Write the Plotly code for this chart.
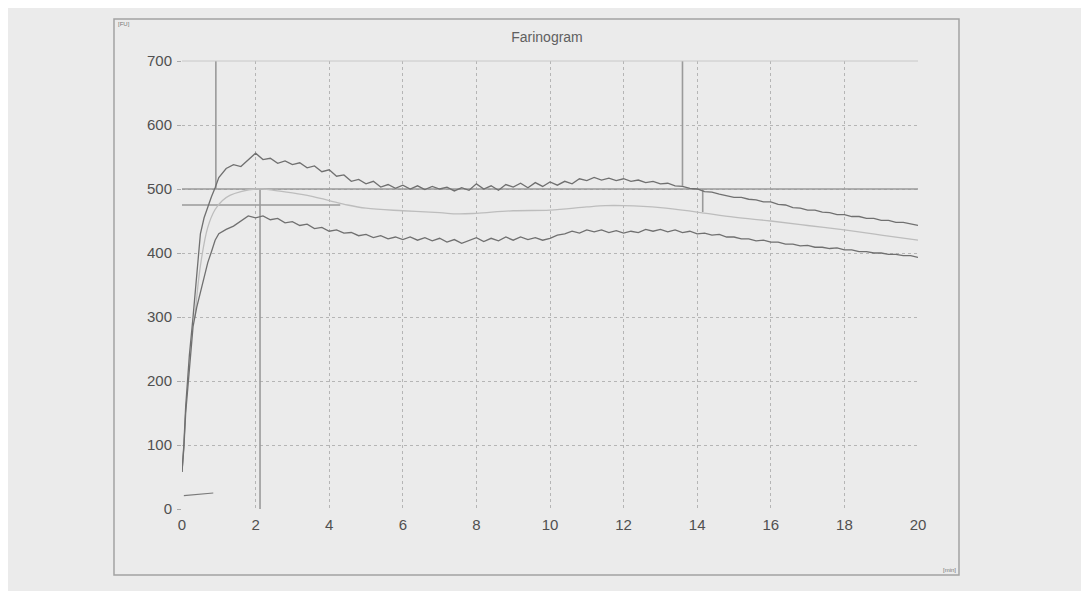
import plotly.graph_objects as go

# ---- data ----
upper_t = [0, 0.05, 0.1, 0.2, 0.3, 0.4, 0.5, 0.6, 0.7, 0.8, 0.9, 1.0,
           1.2, 1.4, 1.6, 1.8, 2.0, 2.2, 2.4, 2.6, 2.8, 3.0, 3.2, 3.4, 3.6, 3.8,
           4.0, 4.2, 4.4, 4.6, 4.8, 5.0, 5.2, 5.4, 5.6, 5.8, 6.0, 6.2, 6.4, 6.6,
           6.8, 7.0, 7.2, 7.4, 7.6, 7.8, 8.0, 8.2, 8.4, 8.6, 8.8, 9.0, 9.2, 9.4,
           9.6, 9.8, 10.0, 10.2, 10.4, 10.6, 10.8, 11.0, 11.2, 11.4, 11.6, 11.8,
           12.0, 12.2, 12.4, 12.6, 12.8, 13.0, 13.2, 13.4, 13.6, 13.8, 14.0,
           14.2, 14.4, 14.6, 14.8, 15.0, 15.2, 15.4, 15.6, 15.8, 16.0, 16.2,
           16.4, 16.6, 16.8, 17.0, 17.2, 17.4, 17.6, 17.8, 18.0, 18.2, 18.4,
           18.6, 18.8, 19.0, 19.2, 19.4, 19.6, 19.8, 20.0]
upper_fu = [58, 100, 160, 240, 300, 370, 430, 455, 472, 488, 502, 518,
            532, 538, 535, 545, 556, 546, 548, 540, 544, 538, 541, 533, 536, 527,
            530, 520, 522, 512, 515, 508, 512, 503, 507, 501, 506, 500, 505, 499,
            504, 500, 503, 497, 502, 498, 508, 500, 505, 498, 507, 503, 509, 502,
            510, 504, 511, 506, 512, 508, 516, 513, 518, 514, 517, 513,
            516, 512, 514, 510, 512, 508, 509, 505, 504, 501, 500,
            496, 495, 492, 490, 487, 487, 484, 483, 480, 480, 476,
            475, 471, 470, 467, 467, 464, 463, 460, 460, 457, 457,
            454, 454, 451, 451, 448, 448, 445, 443]

lower_t = upper_t
lower_fu = [58, 95, 150, 225, 285, 315, 340, 360, 385, 402, 420, 430,
            437, 442, 450, 458, 455, 458, 452, 454, 447, 449, 443, 445, 438, 440,
            434, 436, 431, 432, 427, 429, 424, 427, 422, 425, 421, 425, 420, 424,
            419, 423, 417, 421, 415, 420, 424, 418, 423, 419, 425, 420, 425, 421,
            424, 420, 423, 428, 430, 434, 431, 436, 433, 436, 432, 435,
            431, 434, 432, 437, 434, 437, 433, 436, 432, 434, 430,
            431, 428, 429, 425, 425, 422, 422, 419, 420, 417, 417,
            414, 414, 411, 412, 409, 409, 407, 408, 405, 405, 402,
            402, 400, 400, 398, 398, 396, 396, 393]

mid_t = [0.35, 0.5, 0.7, 0.9, 1.1, 1.3, 1.6, 2.0, 2.5, 3.0, 3.5, 4.0, 4.5, 5.0,
         6.0, 7.0, 7.5, 8.0, 9.0, 10.0, 11.0, 11.5, 12.0, 13.0, 14.0, 15.0,
         16.0, 17.0, 18.0, 19.0, 20.0]
mid_fu = [300, 380, 440, 468, 482, 490, 496, 500, 498, 494, 489, 482, 475, 470,
          466, 463, 461, 462, 466, 467, 472, 474, 474, 471, 464, 456,
          450, 443, 436, 428, 420]

temp_t = [0.05, 0.4, 0.85]
temp_fu = [21, 23, 25]

# evaluation marker lines: (x0, y0, x1, y1)
marker_lines = [
    (0.92, 500, 0.92, 700),
    (2.12, 0, 2.12, 500),
    (0, 500, 20, 500),
    (0, 475, 4.3, 475),
    (13.6, 505, 13.6, 700),
    (14.15, 464, 14.15, 500),
]

x_ticks = [0, 2, 4, 6, 8, 10, 12, 14, 16, 18, 20]
y_ticks = [0, 100, 200, 300, 400, 500, 600, 700]

# ---- figure ----
W, H = 1073, 583
fig = go.Figure()
for x0, y0, x1, y1 in marker_lines:
    fig.add_trace(go.Scatter(x=[x0, x1], y=[y0, y1], mode="lines",
                             line=dict(color="#9a9a9a", width=1.6),
                             hoverinfo="skip", showlegend=False))

fig.add_trace(go.Scatter(x=mid_t, y=mid_fu, mode="lines",
                         line=dict(color="#bdbdbd", width=1.3, shape="spline"),
                         showlegend=False))
fig.add_trace(go.Scatter(x=upper_t, y=upper_fu, mode="lines",
                         line=dict(color="#707070", width=1.3), showlegend=False))
fig.add_trace(go.Scatter(x=lower_t, y=lower_fu, mode="lines",
                         line=dict(color="#707070", width=1.3), showlegend=False))
fig.add_trace(go.Scatter(x=temp_t, y=temp_fu, mode="lines",
                         line=dict(color="#7a7a7a", width=1.2), showlegend=False))

fig.update_layout(
    width=W, height=H,
    margin=dict(l=174, r=W - 174 - 736, t=53, b=H - 53 - 448),
    paper_bgcolor="#ebebeb", plot_bgcolor="#ebebeb",
    font=dict(family="Liberation Sans, Arial, sans-serif", color="#505050", size=15),
    title=dict(text="Farinogram", x=539 / W, xanchor="center",
               y=1 - 29 / H, yanchor="middle",
               font=dict(size=14, color="#606060")),
    xaxis=dict(range=[0, 20], tickvals=x_ticks, showgrid=True,
               gridcolor="#b5b5b5", griddash="dot", gridwidth=1,
               zeroline=False, showline=False, ticks="", ticklen=4,
               ticklabelstandoff=5),
    yaxis=dict(range=[0, 700], tickvals=y_ticks, showgrid=True,
               gridcolor="#b5b5b5", griddash="dot", gridwidth=1,
               zeroline=False, showline=False, ticks="outside", ticklen=4,
               tickcolor="#aaaaaa", ticklabelstandoff=2),
    shapes=[
        dict(type="rect", xref="paper", yref="paper",
             x0=-0.0924, x1=1.0557, y0=-0.1473, y1=1.0938,
             line=dict(color="#a3a3a3", width=1.5), fillcolor="rgba(0,0,0,0)",
             layer="below"),
        dict(type="line", xref="paper", yref="paper", x0=0, x1=1, y0=1, y1=1,
             line=dict(color="#c8c8c8", width=1)),
    ],
    annotations=[
        dict(text="[FU]", xref="paper", yref="paper", x=-0.089, y=1.083,
             xanchor="left", yanchor="middle", showarrow=False,
             font=dict(size=6, color="#777777")),
        dict(text="[min]", xref="paper", yref="paper", x=1.054, y=-0.137,
             xanchor="right", yanchor="middle", showarrow=False,
             font=dict(size=6, color="#777777")),
    ],
)

fig.write_html("out.html")
